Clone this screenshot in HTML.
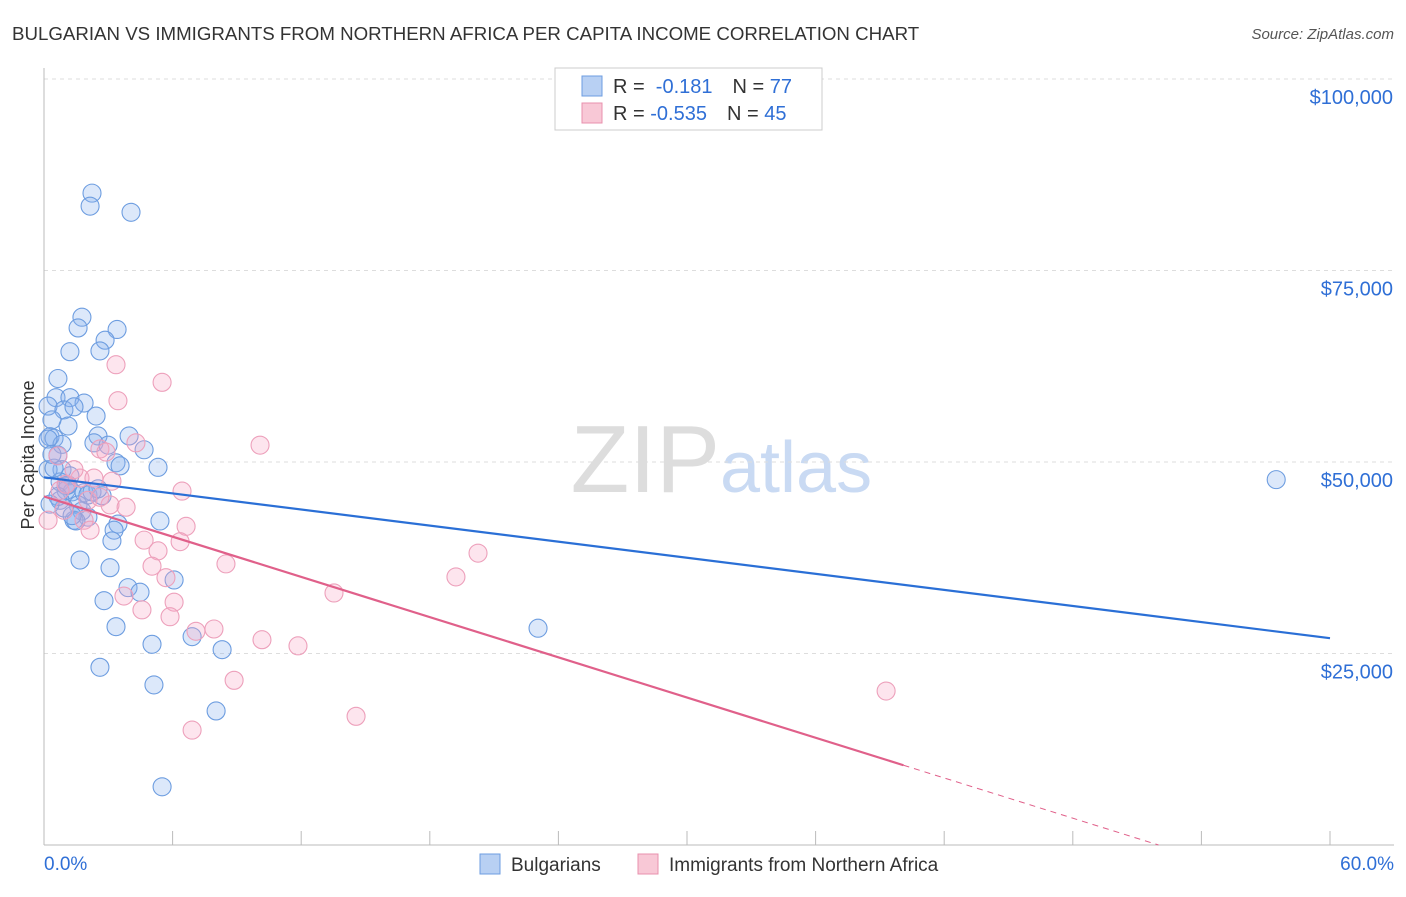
<!DOCTYPE html>
<html><head><meta charset="utf-8"><style>
body{margin:0;background:#fff;font-family:"Liberation Sans",sans-serif}
svg text{font-family:"Liberation Sans",sans-serif}
</style></head><body>
<svg id="c" width="1406" height="892">
<text x="12" y="40" font-size="18.7" fill="#333">BULGARIAN VS IMMIGRANTS FROM NORTHERN AFRICA PER CAPITA INCOME CORRELATION CHART</text>
<text x="1394" y="39" font-size="15" fill="#555" text-anchor="end" font-style="italic">Source: ZipAtlas.com</text>
<text x="720" y="492" font-size="96" fill="#ddd" text-anchor="end" font-family="Liberation Serif">ZIP</text>
<text x="720" y="492" font-size="72" fill="#c9daf3">atlas</text>
<text transform="translate(34,455) rotate(-90)" font-size="18" fill="#333" text-anchor="middle">Per Capita Income</text>
<g id="grid"></g><g id="pts"></g><g id="lines"></g>
<rect x="555" y="68" width="267" height="62" fill="#fff" stroke="#ccc"/>
<rect x="582" y="76" width="20" height="20" fill="#b8d0f3" stroke="#6d9de0"/>
<rect x="582" y="103" width="20" height="20" fill="#f8c8d6" stroke="#e890ad"/>
<text x="613" y="93" font-size="20" fill="#333">R = <tspan fill="#2f6fd6">&#160;-0.181</tspan><tspan dx="20">N = </tspan><tspan fill="#2f6fd6">77</tspan></text>
<text x="613" y="120" font-size="20" fill="#333">R = <tspan fill="#2f6fd6">-0.535</tspan><tspan dx="20">N = </tspan><tspan fill="#2f6fd6">45</tspan></text>
<rect x="480" y="854" width="20" height="20" fill="#b8d0f3" stroke="#6d9de0"/>
<text x="511" y="871" font-size="19" fill="#333">Bulgarians</text>
<rect x="638" y="854" width="20" height="20" fill="#f8c8d6" stroke="#e890ad"/>
<text x="669" y="871" font-size="19" fill="#333">Immigrants from Northern Africa</text>
<text x="44" y="870" font-size="19" fill="#2f6fd6">0.0%</text>
<text x="1394" y="870" font-size="19" fill="#2f6fd6" text-anchor="end">60.0%</text>
</svg>
<script>
const yTicks=[25000,50000,75000,100000];
const yTickLabels=["$25,000","$50,000","$75,000","$100,000"];
const blueX=[2.24,2.15,4.06,1.77,1.59,3.41,2.85,1.21,2.61,0.65,0.56,1.21,1.87,0.19,0.93,1.40,2.43,1.12,0.37,0.28,0.47,2.52,3.97,2.33,4.67,0.65,0.84,3.36,3.55,5.32,0.19,1.21,0.75,1.03,1.31,1.87,2.05,2.71,1.59,1.77,2.05,1.40,3.45,5.41,1.49,3.27,3.17,1.68,3.08,3.92,4.48,6.07,2.80,3.36,5.04,6.91,8.31,2.61,5.13,8.03,5.51,23.05,57.49,1.03,2.24,2.99,0.84,0.47,0.75,0.93,0.19,0.37,1.12,2.52,0.65,1.31,0.28];
const blueY=[85.1,83.4,82.6,68.9,67.5,67.3,65.9,64.4,64.5,60.9,58.4,58.4,57.7,57.3,56.8,57.2,56.0,54.7,55.5,53.3,53.1,53.4,53.4,52.5,51.6,50.9,49.0,49.9,49.5,49.3,49.0,48.2,47.4,46.3,46.1,46.0,45.7,45.6,44.4,43.6,42.8,42.4,41.9,42.3,42.3,41.1,39.7,37.2,36.2,33.6,33.0,34.6,31.9,28.5,26.2,27.2,25.5,23.2,20.9,17.5,7.6,28.3,47.7,46.9,46.1,52.2,52.3,49.2,45.0,44.0,53.0,51.0,47.0,46.5,45.5,43.0,44.5];
const pinkX=[3.36,5.51,3.45,4.29,10.08,2.61,2.89,0.65,1.68,1.03,6.44,2.05,3.08,3.83,0.93,1.87,2.15,6.63,4.67,6.35,5.32,5.04,20.25,19.22,5.69,8.49,3.73,6.07,13.53,4.57,5.88,7.09,7.93,10.17,11.85,8.87,39.29,14.56,6.91,0.19,1.40,2.61,0.75,2.33,3.17];
const pinkY=[62.7,60.4,58.0,52.5,52.2,51.7,51.3,50.8,47.9,47.1,46.2,45.0,44.4,44.1,43.7,42.4,41.1,41.6,39.8,39.6,38.4,36.4,38.1,35.0,34.9,36.7,32.5,31.7,32.9,30.7,29.8,27.9,28.2,26.8,26.0,21.5,20.1,16.8,15.0,42.4,49.0,45.4,46.3,47.9,47.5];
const blueFit=[48.0,27.0];
const pinkFit=[45.5,-0.875];
const X0=44,X1=1330,Y0=845,PPK=191.5/25;
const sx=v=>X0+(v/60)*(X1-X0);
const sy=v=>Y0-v*PPK;
const NS="http://www.w3.org/2000/svg";
function mk(t,a,p){const e=document.createElementNS(NS,t);for(const k in a)e.setAttribute(k,a[k]);p.appendChild(e);return e;}
const grid=document.getElementById('grid'),pts=document.getElementById('pts'),lines=document.getElementById('lines');
yTicks.forEach((t,i)=>{
 const g=mk('line',{x1:X0,x2:1394,y1:sy(t/1000),y2:sy(t/1000),stroke:'#ddd','stroke-dasharray':'4,4'},grid);
 
 
 const tx=mk('text',{x:1393,y:sy(t/1000)+25,'font-size':20,fill:'#2f6fd6','text-anchor':'end'},grid);
 tx.textContent=yTickLabels[i];
 
 
});
const topGrid=mk('line',{x1:X0,x2:1394,y1:79,y2:79,stroke:'#ddd','stroke-dasharray':'4,4'},grid);


const ya=mk('line',{x1:X0,x2:X0,y1:68,y2:Y0,stroke:'#bbb'},grid);


const xa=mk('line',{x1:X0,x2:1394,y1:Y0,y2:Y0,stroke:'#bbb'},grid);


for(let i=0;i<=10;i++){const t=mk('line',{x1:sx(i*6),x2:sx(i*6),y1:Y0,y2:Y0-14,stroke:'#bbb'},grid);
 
 }
blueX.forEach((x,i)=>{const c=mk('circle',{cx:sx(x),cy:sy(blueY[i]),r:9,fill:'rgba(140,180,240,0.3)',stroke:'#6d9de0','stroke-width':1.1},pts);
 
 });
pinkX.forEach((x,i)=>{const c=mk('circle',{cx:sx(x),cy:sy(pinkY[i]),r:9,fill:'rgba(248,170,198,0.3)',stroke:'#eda0bb','stroke-width':1.1},pts);
 
 });
const bl=mk('line',{x1:sx(0),y1:sy(blueFit[0]),x2:sx(60),y2:sy(blueFit[1]),stroke:'#2a6fd6','stroke-width':2.2},lines);


const pe=40.1,pz=-pinkFit[0]/pinkFit[1];
const pl=mk('line',{x1:sx(0),y1:sy(pinkFit[0]),x2:sx(pe),y2:sy(pinkFit[0]+pinkFit[1]*pe),stroke:'#e0608a','stroke-width':2.2},lines);


const pd=mk('line',{x1:sx(pe),y1:sy(pinkFit[0]+pinkFit[1]*pe),x2:sx(pz),y2:sy(0),stroke:'#e0608a','stroke-width':1,'stroke-dasharray':'6,5'},lines);


</script>
</body></html>
